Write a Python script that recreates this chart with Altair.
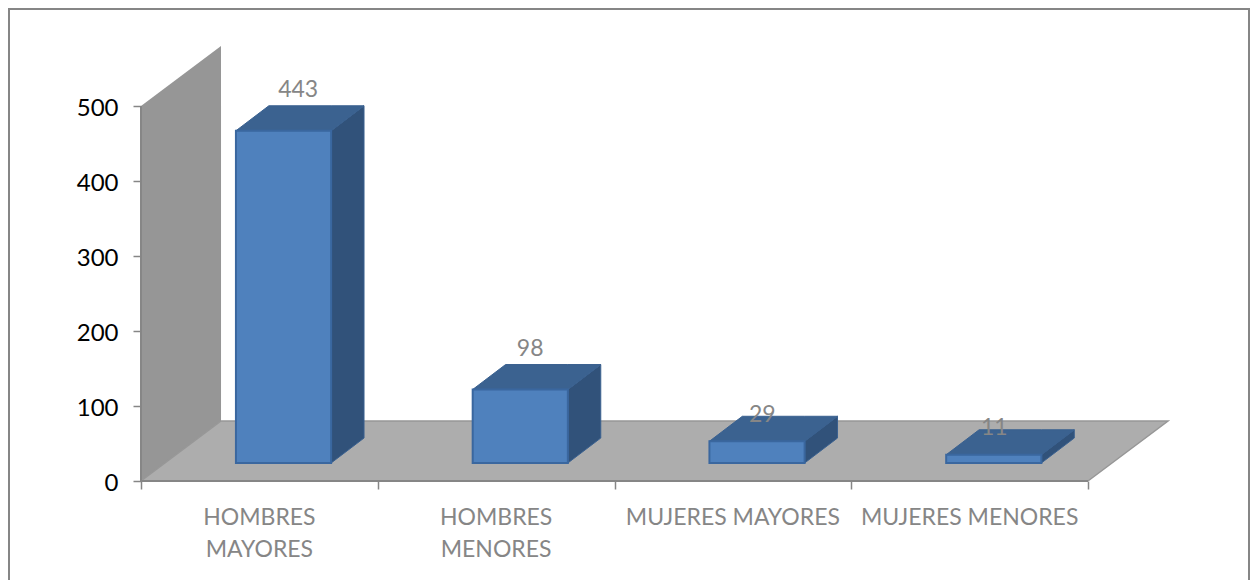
import altair as alt
import pandas as pd

categories = ["HOMBRES\nMAYORES", "HOMBRES\nMENORES", "MUJERES MAYORES", "MUJERES MENORES"]
values = [443, 98, 29, 11]
y_ticks = [0, 100, 200, 300, 400, 500]
x_ticks = [0, 1, 2, 3, 4]

W, H = 1242, 572
X0, Y0 = 133, 473        # pixel position of the chart origin in the view
UX, UY = 236.75, 0.75    # pixels per category, pixels per value
BAR_L, BAR_W = 0.401, 0.402
BAR_DX, BAR_DY = 0.139, 33.3
BASE = 24
WALL_DX, WALL_DY = 0.338, 80
Y_MAX = 500
N = len(categories)

FONT = "Lato"
GREY = "#868686"

xs = alt.Scale(domain=[-X0 / UX, (W - X0) / UX], nice=False, zero=False)
ys = alt.Scale(domain=[-(H - Y0) / UY, Y0 / UY], nice=False, zero=False)
x_axis = alt.Axis(values=x_ticks, labels=False, domain=False, grid=False, ticks=True, title=None,
                  tickSize=8, tickColor=GREY, tickWidth=1.5, offset=Y0 - H)
y_axis = alt.Axis(values=y_ticks, format="d", domain=False, grid=False, ticks=True, title=None,
                  tickSize=8, tickColor=GREY, tickWidth=1.5, offset=-X0,
                  labelFont=FONT, labelFontSize=24, labelColor="#000000", labelPadding=15, labelOffset=2)
X = lambda f="x": alt.X(f"{f}:Q", scale=xs, axis=x_axis)
Y = lambda f="y": alt.Y(f"{f}:Q", scale=ys, axis=y_axis)

# walls
wall = pd.DataFrame({"x": [0, WALL_DX], "y": [Y_MAX, Y_MAX + WALL_DY], "y2": [0, WALL_DY]})
floor = pd.DataFrame({"x": [0, WALL_DX, N, N + WALL_DX],
                      "y": [0, WALL_DY, WALL_DY, WALL_DY],
                      "y2": [0, 0, 0, WALL_DY]})
outline = pd.DataFrame({"x": [0, WALL_DX, N + WALL_DX, N],
                        "y": [0, WALL_DY, WALL_DY, 0],
                        "o": [0, 1, 2, 3]})

# bars
front, side, top, labels = [], [], [], []
for i, (c, v) in enumerate(zip(categories, values)):
    a = i + BAR_L
    b = a + BAR_W
    t = BASE + v
    front.append({"x": a, "x2": b, "y": BASE, "y2": t})
    side.append({"bar": i, "x": b, "y": t, "y2": BASE})
    side.append({"bar": i, "x": b + BAR_DX, "y": t + BAR_DY, "y2": BASE + BAR_DY})
    top.append({"bar": i, "x": a, "y": t, "y2": t})
    top.append({"bar": i, "x": a + BAR_DX, "y": t + BAR_DY, "y2": t})
    top.append({"bar": i, "x": b, "y": t + BAR_DY, "y2": t})
    top.append({"bar": i, "x": b + BAR_DX, "y": t + BAR_DY, "y2": t + BAR_DY})
    lift = 21 if v >= 50 else 2
    labels.append({"x": 0.664 + i * 0.98, "y": t + BAR_DY + lift, "t": str(v)})
front, side, top, labels = map(pd.DataFrame, (front, side, top, labels))
cats = pd.DataFrame({"x": [i + 0.5 for i in range(N)], "y": [-34.5] * N, "t": categories})

chart = alt.layer(
    alt.Chart(wall).mark_area(color="#969696", orient="vertical").encode(x=X(), y=Y(), y2="y2:Q"),
    alt.Chart(floor).mark_area(color="#ADADAD", orient="vertical").encode(x=X(), y=Y(), y2="y2:Q"),
    alt.Chart(outline).mark_line(color="#979797", strokeWidth=1.5).encode(x=X(), y=Y(), order="o:Q"),
    alt.Chart(pd.DataFrame({"x": [0], "y": [0], "y2": [Y_MAX]})).mark_rule(color=GREY, strokeWidth=2).encode(x=X(), y=Y(), y2="y2:Q"),
    alt.Chart(pd.DataFrame({"x": [0], "x2": [N], "y": [0]})).mark_rule(color=GREY, strokeWidth=2).encode(x=X(), x2="x2:Q", y=Y()),
    alt.Chart(side).mark_area(color="#31527A", orient="vertical", stroke="#3A6190", strokeWidth=1).encode(x=X(), y=Y(), y2="y2:Q", detail="bar:N"),
    alt.Chart(top).mark_area(color="#3B6290", orient="vertical", stroke="#3A6190", strokeWidth=1).encode(x=X(), y=Y(), y2="y2:Q", detail="bar:N"),
    alt.Chart(front).mark_rect(color="#4F81BD", stroke="#3A679F", strokeWidth=2).encode(x=X(), x2="x2:Q", y=Y(), y2="y2:Q"),
    alt.Chart(labels).mark_text(font=FONT, fontSize=23, color=GREY, baseline="middle", align="center").encode(x=X(), y=Y(), text="t:N"),
    alt.Chart(cats).mark_text(font=FONT, fontSize=23, color=GREY, baseline="top", align="center", lineBreak="\n", lineHeight=32).encode(x=X(), y=Y(), text="t:N"),
    alt.Chart(pd.DataFrame({"k": ["top"]})).mark_rule(color=GREY, strokeWidth=2).encode(x=alt.value(0), x2=alt.value(W), y=alt.value(1)),
    alt.Chart(pd.DataFrame({"k": ["left"]})).mark_rule(color=GREY, strokeWidth=2).encode(x=alt.value(1), y=alt.value(0), y2=alt.value(H)),
    alt.Chart(pd.DataFrame({"k": ["right"]})).mark_rule(color=GREY, strokeWidth=2).encode(x=alt.value(W - 1), y=alt.value(0), y2=alt.value(H)),
).properties(width=W, height=H, autosize="none", padding=0, background="#ffffff").configure_view(strokeWidth=0)

chart.save("out.html", embed_options={"renderer": "svg", "actions": False})
